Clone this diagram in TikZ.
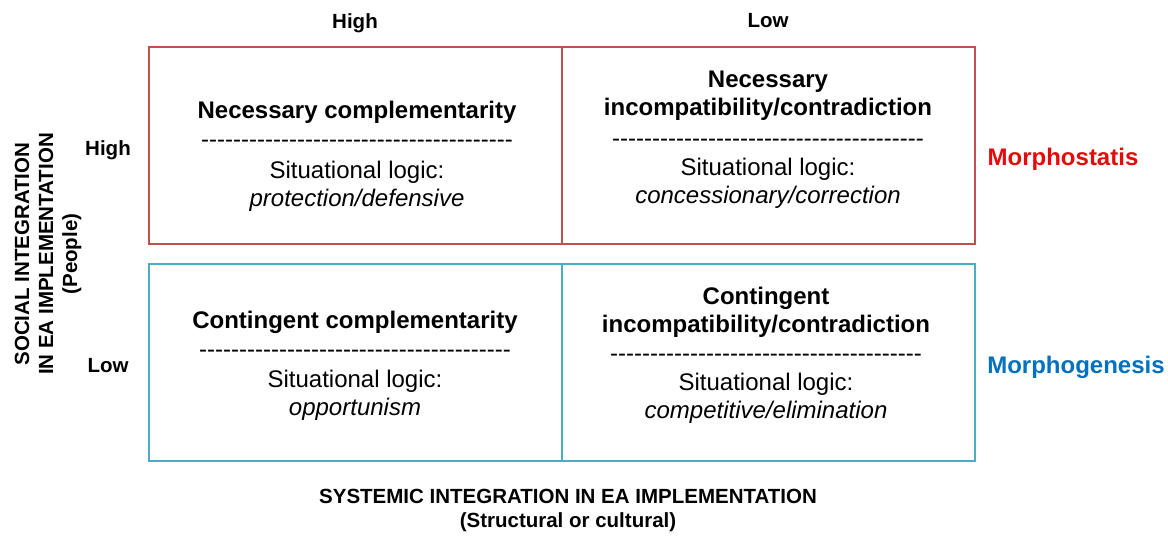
\documentclass[tikz,border=0pt]{standalone}
\usepackage{fontspec}
\setmainfont{Liberation Sans}
\usetikzlibrary{positioning}
\definecolor{statisbox}{RGB}{192,80,77}
\definecolor{genesisbox}{RGB}{75,172,198}
\definecolor{statistext}{RGB}{228,10,10}
\definecolor{genesistext}{RGB}{0,112,192}
\newcommand{\dashrow}{\foreach \k in {1,...,39}{-}}

\begin{document}
\begin{tikzpicture}[x=1pt, y=-1pt,
    cell/.style={draw, line width=2.5pt, minimum width=413pt, minimum height=197pt, inner sep=0pt},
    head/.style={font=\fontsize{24}{28}\selectfont\bfseries, align=center, inner sep=0pt},
    body/.style={font=\fontsize{24}{28}\selectfont, align=center, inner sep=0pt},
    axis/.style={font=\fontsize{20.5}{24}\selectfont\bfseries, align=center, inner sep=0pt}]

    \useasboundingbox (0,0) rectangle (1168,536);

    % === CELLULES ===
    \node[cell, statisbox] (tl) at (355.5,145.5) {};
    \node[cell, statisbox] (tr) at (768.5,145.5) {};
    \node[cell, genesisbox] (bl) at (355.5,362.5) {};
    \node[cell, genesisbox] (br) at (768.5,362.5) {};

    % === EN-TETES ===
    \node[axis] (colhigh) at (355,23) {High};
    \node[axis] (collow) at (768,21) {Low};
    \node[axis] (rowhigh) at (108,150) {High};
    \node[axis] (rowlow) at (108,366) {Low};
    \node[axis, rotate=90] (social) at (48,254)
        {SOCIAL INTEGRATION\\IN EA IMPLEMENTATION\\(People)};
    \node[axis] (systemic) at (568,510)
        {SYSTEMIC INTEGRATION IN EA IMPLEMENTATION\\(Structural or cultural)};

    % Haut gauche
    \node[head] (tltitle) at (357,112) {Necessary complementarity};
    \node[body] (tldash) at (357,144) {\dashrow};
    \node[body] (tllogic) at (357,186) {Situational logic:\\\textit{protection/defensive}};

    % Haut droite
    \node[head] (trtitle) at (768,96) {Necessary\\incompatibility/contradiction};
    \node[body] (trdash) at (768,143) {\dashrow};
    \node[body] (trlogic) at (768,183) {Situational logic:\\\textit{concessionary/correction}};

    % Bas gauche
    \node[head] (bltitle) at (355,322) {Contingent complementarity};
    \node[body] (bldash) at (355,354) {\dashrow};
    \node[body] (bllogic) at (355,395) {Situational logic:\\\textit{opportunism}};

    % Bas droite
    \node[head] (brtitle) at (766,312) {Contingent\\incompatibility/contradiction};
    \node[body] (brdash) at (766,358) {\dashrow};
    \node[body] (brlogic) at (766,398) {Situational logic:\\\textit{competitive/elimination}};

    % === MORPHO ===
    \node[head, statistext] (statis) at (1063,159) {Morphostatis};
    \node[head, genesistext] (genesis) at (1076,367) {Morphogenesis};

\end{tikzpicture}
\end{document}
